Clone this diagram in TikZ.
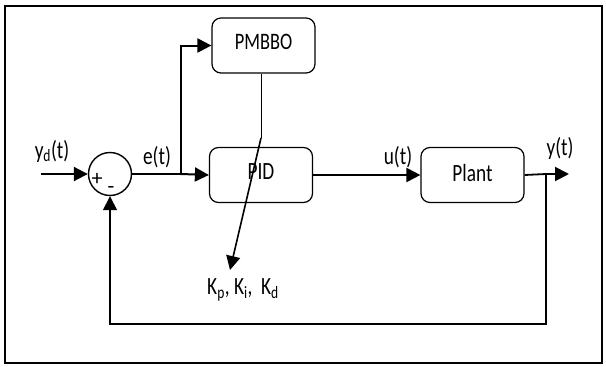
\documentclass[tikz,border=0pt]{standalone}
\usepackage{fontspec}
\setmainfont{Carlito}
\usetikzlibrary{arrows.meta}
\newcommand{\tx}[1]{\scalebox{0.92}[1.18]{#1}}
\tikzset{
  blk/.style={draw, line width=1.2pt, rounded corners=9pt, minimum width=103pt, minimum height=55pt, inner sep=0pt, font=\fontsize{20}{22}\selectfont},
  sig/.style={line width=2pt, -{Triangle[length=14pt,width=14pt]}},
  wire/.style={line width=1.8pt},
  lbl/.style={inner sep=0pt, font=\fontsize{21}{23}\selectfont}
}
\begin{document}
\begin{tikzpicture}[x=1pt,y=-1pt]
\useasboundingbox (0,0) rectangle (606,367);
\draw[line width=1.5pt] (5,6) rectangle (602,363);
% blocks
\node[blk] (pmbbo) at (263.5,45.5) {\raisebox{7pt}{\tx{PMBBO}}};
\node[blk] (pid) at (261,175) {\raisebox{6pt}{\fontsize{21}{23}\selectfont\tx{PID}}};
\node[blk] (plant) at (472.5,175) {\raisebox{5pt}{\fontsize{21}{23}\selectfont\tx{Plant}}};
\node[draw, circle, line width=1.4pt, minimum size=43pt, inner sep=0pt] (sum) at (110,174) {};
% coordinates
\coordinate (in) at (41,174);
\coordinate (eb) at (181,174);
\coordinate (yb) at (546,174);
\coordinate (out) at (569,174);
\coordinate (kink) at (261,138);
\coordinate (ktip) at (230,270);
% connectors
\draw[sig] (in) -- (sum.west);
\draw[wire] (sum.east) -- (eb);
\draw[sig] (eb) -- (pid.west);
\draw[sig] (eb) |- (pmbbo.west);
\draw[sig] (pid.east) -- (plant.west);
\draw[wire] (plant.east) -- (yb);
\draw[sig] (yb) -- (out);
\draw[sig, line width=1.5pt] (yb) -- (546,324) -| (sum.south);
\draw[line width=0.9pt] (pmbbo.south -| kink) -- (kink);
\draw[sig, line width=1.6pt] (kink) -- (ktip);
% labels
\node[lbl] (lyd) at (52,151) {\tx{y\textsubscript{d}(t)}};
\node[lbl] (le) at (157,157) {\tx{e(t)}};
\node[lbl] (lu) at (398,157) {\tx{u(t)}};
\node[lbl] (ly) at (560,148) {\tx{y(t)}};
\node[lbl] (lk) at (243,290) {\tx{K\textsubscript{p}, K\textsubscript{i},\ \ K\textsubscript{d}}};
\node[inner sep=0pt, font=\fontsize{22}{24}\selectfont] (plus) at (97,179) {+};
\node[inner sep=0pt, font=\fontsize{22}{24}\selectfont] (minus) at (111,190) {-};
\end{tikzpicture}
\end{document}
